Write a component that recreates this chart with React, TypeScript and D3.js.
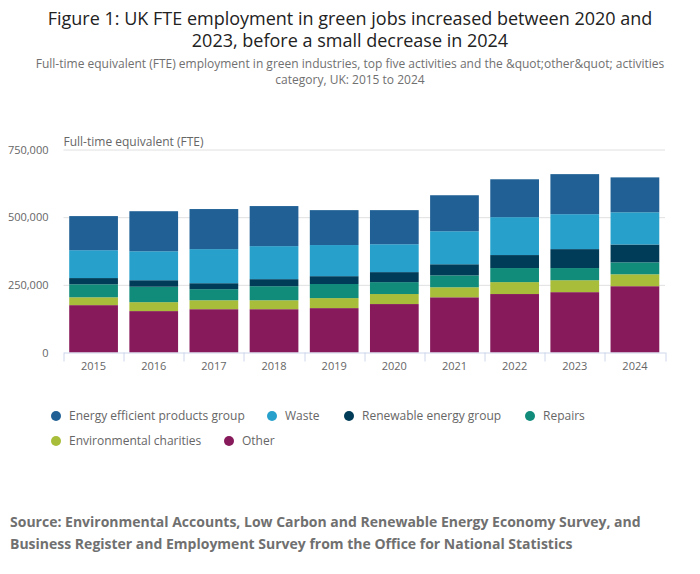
import { useEffect, useRef } from 'react'
import * as d3 from 'd3'

const years = ['2015', '2016', '2017', '2018', '2019', '2020', '2021', '2022', '2023', '2024']

// values in thousands of FTE
const other = [175, 153, 160, 160, 164, 179, 204, 216, 223, 245]
const environmentalCharities = [29, 33, 33, 33, 37, 37, 37, 44, 44, 44]
const repairs = [48, 57, 41, 52, 52, 44, 44, 52, 45, 44]
const renewableEnergy = [23, 24, 22, 26, 29, 37, 41, 48, 70, 66]
const waste = [103, 107, 126, 122, 115, 103, 122, 140, 129, 119]
const energyEfficient = [126, 148, 148, 148, 129, 126, 133, 140, 148, 129]

const yTicks = [0, 250000, 500000, 750000]

const series = [
  { key: 'ee', name: 'Energy efficient products group', color: '#206095', values: energyEfficient },
  { key: 'waste', name: 'Waste', color: '#27a0cc', values: waste },
  { key: 'renew', name: 'Renewable energy group', color: '#003c57', values: renewableEnergy },
  { key: 'repairs', name: 'Repairs', color: '#118c7b', values: repairs },
  { key: 'charities', name: 'Environmental charities', color: '#a8bd3a', values: environmentalCharities },
  { key: 'other', name: 'Other', color: '#871a5b', values: other },
]

// legend rows (order as shown)
const legendRows = [
  ['ee', 'waste', 'renew', 'repairs'],
  ['charities', 'other'],
]

const FONT = '"Open Sans", sans-serif'

export default function App() {
  const svgRef = useRef<SVGSVGElement>(null)

  useEffect(() => {
    document.body.style.margin = '0'
    if (!svgRef.current) return
    const width = 700
    const height = 574
    const margin = { top: 149.5, right: 35, bottom: 221.5, left: 63.5 }
    const innerW = width - margin.left - margin.right
    const innerH = height - margin.top - margin.bottom

    const svg = d3.select(svgRef.current)
    svg.selectAll('*').remove()
    svg.attr('width', width).attr('height', height).style('font-family', FONT)

    // Title
    const title = svg.append('text').attr('text-anchor', 'middle').attr('fill', '#222').attr('font-size', '18px')
    title.append('tspan').attr('x', 350).attr('y', 25).text('Figure 1: UK FTE employment in green jobs increased between 2020 and')
    title.append('tspan').attr('x', 350).attr('y', 47).text('2023, before a small decrease in 2024')

    const sub = svg.append('text').attr('text-anchor', 'middle').attr('fill', '#707070').attr('font-size', '12px')
    sub.append('tspan').attr('x', 350).attr('y', 68).text('Full-time equivalent (FTE) employment in green industries, top five activities and the &quot;other&quot; activities')
    sub.append('tspan').attr('x', 350).attr('y', 84).text('category, UK: 2015 to 2024')

    const g = svg.append('g').attr('transform', `translate(${margin.left},${margin.top})`)

    const x = d3.scaleBand().domain(years).range([0, innerW]).paddingInner(0.19).paddingOuter(0.095)
    const y = d3.scaleLinear().domain([0, 750000]).range([innerH, 0])

    // grid
    g.append('g')
      .call(d3.axisLeft(y).tickValues(yTicks.slice(1)).tickSize(-innerW).tickFormat(() => ''))
      .call((s) => s.select('.domain').remove())
      .call((s) => s.selectAll('line').attr('stroke', '#e0e0e0'))

    // y axis labels
    g.append('g')
      .call(d3.axisLeft(y).tickValues(yTicks).tickSize(0).tickPadding(15).tickFormat((d) => d3.format(',')(d as number)))
      .call((s) => s.select('.domain').remove())
      .call((s) => s.selectAll('text').attr('fill', '#666').attr('font-size', '11px').attr('font-family', FONT))

    g.append('text')
      .attr('x', 0)
      .attr('y', -4)
      .attr('fill', '#666')
      .attr('font-size', '12px')
      .text('Full-time equivalent (FTE)')

    // stacked bars
    const rows = years.map((yr, i) => {
      const r: Record<string, number | string> = { year: yr }
      series.forEach((s) => (r[s.key] = s.values[i] * 1000))
      return r
    })
    const stackOrder = ['other', 'charities', 'repairs', 'renew', 'waste', 'ee']
    const stacked = d3.stack<Record<string, number | string>>().keys(stackOrder)(rows)
    const colorOf = (k: string) => series.find((s) => s.key === k)!.color

    g.selectAll('.layer')
      .data(stacked)
      .enter()
      .append('g')
      .attr('fill', (d) => colorOf(d.key))
      .selectAll('rect')
      .data((d) => d)
      .enter()
      .append('rect')
      .attr('x', (d) => x(d.data.year as string)!)
      .attr('width', x.bandwidth())
      .attr('y', (d) => y(d[1]))
      .attr('height', (d) => y(d[0]) - y(d[1]))

    // x axis
    const xAxisG = g
      .append('g')
      .attr('transform', `translate(0,${innerH})`)
      .call(d3.axisBottom(x).tickSize(0).tickPadding(10))
    xAxisG.select('.domain').attr('stroke', '#ccd6eb')
    xAxisG.selectAll('text').attr('fill', '#666').attr('font-size', '11px').attr('font-family', FONT)

    // x ticks at band boundaries
    const bounds = years.map((yr) => x(yr)! - (x.step() * x.paddingInner()) / 2)
    bounds.push(innerW)
    g.append('g')
      .selectAll('line')
      .data(bounds)
      .enter()
      .append('line')
      .attr('x1', (d) => Math.round(d) + 0.5)
      .attr('x2', (d) => Math.round(d) + 0.5)
      .attr('y1', innerH)
      .attr('y2', innerH + 9)
      .attr('stroke', '#ccd6eb')

    // legend
    const legendX: Record<string, number> = { ee: 56, waste: 272, renew: 349, repairs: 530, charities: 56, other: 229 }
    const legendY = [416, 441]
    legendRows.forEach((row, ri) => {
      row.forEach((k) => {
        const s = series.find((d) => d.key === k)!
        const item = svg.append('g').attr('transform', `translate(${legendX[k]},${legendY[ri]})`)
        item.append('circle').attr('r', 5).attr('fill', s.color)
        item
          .append('text')
          .attr('x', 13)
          .attr('dy', '0.35em')
          .attr('fill', '#666')
          .attr('font-size', '12px')
          .text(s.name)
      })
    })

    // source
    const src = svg.append('text').attr('fill', '#707070').attr('font-size', '14px').attr('font-weight', 'bold')
    src.append('tspan').attr('x', 10).attr('y', 527).text('Source: Environmental Accounts, Low Carbon and Renewable Energy Economy Survey, and')
    src.append('tspan').attr('x', 10).attr('y', 549).text('Business Register and Employment Survey from the Office for National Statistics')
  }, [])

  return <svg ref={svgRef}></svg>
}
